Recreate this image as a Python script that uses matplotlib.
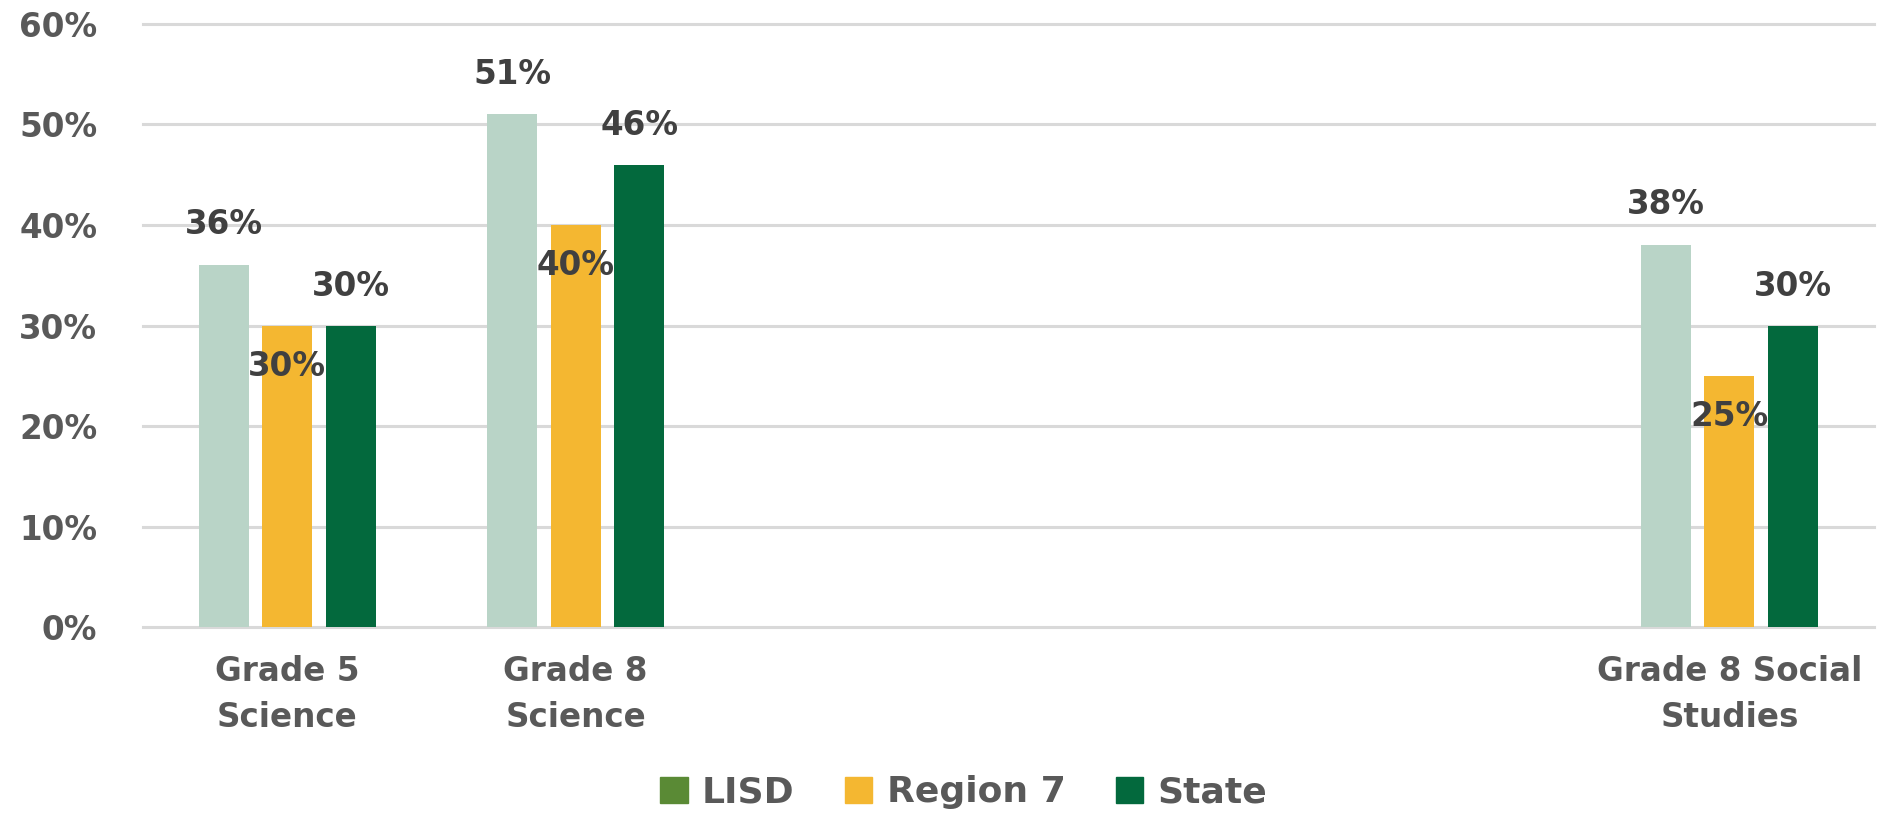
import matplotlib
matplotlib.use("Agg")
import matplotlib.pyplot as plt
import matplotlib.patches as mpatches
import numpy as np

# dados (categorias vazias ficam como espaço)
categories = ["Grade 5\nScience", "Grade 8\nScience", "", "", "", "Grade 8 Social\nStudies"]
series_names = ["LISD", "Region 7", "State"]
lisd = [36, 51, None, None, None, 38]
region7 = [30, 40, None, None, None, 25]
state = [30, 46, None, None, None, 30]

bar_colors = ["#B9D4C7", "#F4B731", "#03693D"]
legend_colors = ["#5A8A35", "#F4B731", "#03693D"]
text_color = "#404040"
tick_color = "#595959"

fig = plt.figure(figsize=(18.79, 8.22), dpi=100)
ax = fig.add_axes([0.0761, 0.237, 0.921, 0.734])

x = np.arange(len(categories))
width = 0.174
step = 0.22

# posição do rótulo: acima (LISD, State) ou dentro da barra (Region 7)
label_offsets = [29, -29.5, 28]

for i, (vals, color, off) in enumerate(zip([lisd, region7, state], bar_colors, label_offsets)):
    xs = [xi + (i - 1) * step for xi, v in zip(x, vals) if v is not None]
    ys = [v / 100 for v in vals if v is not None]
    ax.bar(xs, ys, width=width, color=color, zorder=3)
    for xx, yy in zip(xs, ys):
        ax.annotate(f"{round(yy * 100)}%", (xx, yy), xytext=(0, off), textcoords="offset points",
                    ha="center", va="center", fontsize=23.5, fontweight="bold", color=text_color, zorder=4)

ax.set_ylim(0, 0.6)
ax.set_xlim(-0.5, len(categories) - 0.5)
ticks = np.arange(0, 0.61, 0.1)
ax.set_yticks(ticks)
ax.set_yticklabels([f"{int(round(t * 100))}%" for t in ticks])
ax.set_xticks(x)
ax.set_xticklabels(categories, linespacing=1.5)
ax.tick_params(axis="both", length=0, labelsize=23.5, labelcolor=tick_color)
ax.tick_params(axis="y", pad=33)
ax.tick_params(axis="x", pad=20)
for lab in ax.get_xticklabels() + ax.get_yticklabels():
    lab.set_fontweight("bold")

ax.yaxis.grid(True, color="#D9D9D9", linewidth=2.2, zorder=0)
for gl in ax.get_ygridlines():
    gl.set_clip_on(False)
ax.set_axisbelow(True)
for s in ax.spines.values():
    s.set_visible(False)

handles = [mpatches.Patch(color=c, label=n) for c, n in zip(legend_colors, series_names)]
leg = fig.legend(handles=handles, loc="center", bbox_to_anchor=(0.513, 0.036), ncol=3, frameon=False,
                 prop={"size": 26, "weight": "bold"}, handlelength=0.75, handleheight=0.75,
                 handletextpad=0.4, columnspacing=1.4, borderpad=0)
for t in leg.get_texts():
    t.set_color(tick_color)

fig.savefig("out.png", dpi=100, facecolor="white")
